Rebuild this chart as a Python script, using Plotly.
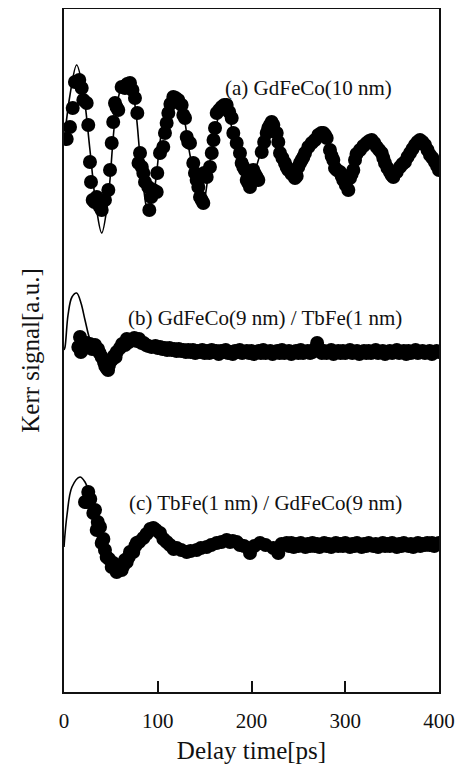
import plotly.graph_objects as go

# ---------------- data (delay time in ps, Kerr signal in a.u. incl. vertical offsets) ----------------
# (a) GdFeCo(10 nm) measured points
a_t = [2.9, 6.4, 9.3, 11.7, 16.3, 18.9, 20.6, 24.2, 25.9, 27.7, 30.6, 34.9, 38.4, 40.2, 43.7, 47.3,
       49.1, 50.9, 54.4, 57.9, 61.5, 65.1, 70.4, 75.7, 78.2, 79.5, 81.1, 84.6, 86.4, 89.9, 91.0, 95.3,
       98.9, 99.5, 102.4, 105.9, 107.7, 109.5, 111.3, 116.6, 121.9, 125.5, 127.3, 129.1, 130.9, 134.4,
       137.9, 139.7, 141.5, 143.3, 145.1, 148.6, 149.5, 152.2, 155.7, 157.6, 161.1, 162.9, 168.2, 173.5,
       178.9, 180.6, 184.2, 187.7, 189.5, 193.1, 194.9, 198.4, 201.9, 205.5, 207.3, 210.9, 216.2, 219.7,
       223.3, 226.9, 228.6, 230.4, 235.7, 239.3, 246.4, 249.9, 253.5, 257.1, 260.6, 267.7, 271.3, 276.6,
       280.2, 283.7, 287.3, 289.1, 294.4, 297.9, 303.3, 305.1, 308.6, 310.4, 315.7, 322.9, 328.2, 333.6,
       338.9, 342.4, 347.7, 351.3, 358.4, 363.7, 369.1, 374.4, 379.7, 385.1, 390.4, 395.7, 400.0,
       28.8, 32.5, 36.5, 52.5, 56.0, 67.5, 73.0, 83.0, 93.0, 113.5, 119.0, 132.5, 146.9, 159.5, 165.5,
       170.9, 176.2, 191.3, 196.6, 200.2, 203.7, 213.5, 217.9, 221.5, 233.0, 237.5, 242.8, 248.2, 251.7,
       255.3, 264.2, 274.5, 278.4, 285.5, 291.0, 296.2, 300.6, 306.8, 312.0, 319.3, 325.6, 331.0, 336.2,
       340.6, 345.0, 349.5, 354.9, 361.0, 366.4, 371.7, 377.0, 382.4, 387.8, 393.0, 398.0]
a_v = [55.3, 56.5, 58.4, 61.0, 61.2, 60.4, 59.2, 58.9, 56.7, 53.0, 49.2, 49.5, 48.5, 48.2, 49.2, 50.2,
       52.2, 54.9, 58.9, 58.2, 60.5, 60.4, 60.9, 59.4, 57.9, 52.9, 53.9, 51.9, 51.0, 50.5, 48.2, 50.2,
       50.0, 51.9, 53.9, 54.5, 55.9, 56.9, 57.9, 59.5, 59.2, 58.7, 57.7, 57.4, 55.5, 54.9,
       52.9, 51.9, 51.2, 50.5, 49.5, 48.9, 51.9, 51.5, 52.5, 53.9, 56.4, 57.9, 58.5, 58.7,
       57.4, 55.9, 54.9, 53.9, 52.9, 52.2, 51.2, 50.5, 52.2, 51.5, 51.2, 54.0, 55.9, 56.7,
       56.7, 55.9, 55.0, 53.9, 52.9, 52.2, 51.4, 52.5, 53.2, 53.9, 54.5, 55.2, 55.7, 55.9,
       55.4, 54.2, 53.2, 52.4, 52.0, 51.2, 50.2, 51.4, 52.2, 53.2, 54.2, 54.9, 55.2, 54.5,
       53.9, 52.9, 52.0, 51.5, 52.5, 53.0, 53.9, 54.7, 55.2, 54.7, 53.7, 53.0, 52.2,
       51.0, 49.0, 48.8, 57.0, 58.5, 60.8, 60.2, 52.5, 49.5, 58.8, 59.4, 55.0, 49.2, 55.2, 58.2,
       58.7, 58.0, 52.5, 50.9, 51.4, 51.8, 55.0, 56.4, 57.0, 53.4, 52.5, 51.8, 51.6, 52.9,
       53.5, 54.9, 55.9, 55.7, 53.6, 52.2, 51.6, 50.7, 51.8, 53.8, 54.6, 55.1, 54.9, 54.2,
       53.4, 52.4, 51.7, 52.0, 52.8, 53.5, 54.3, 55.0, 55.0, 54.2, 53.4, 52.6]
# (a) fitted curve
a_fit_t = [0.0, 1.1, 6.4, 13.5, 20.3, 27.7, 34.1, 40.2, 46.9, 54.4, 60.8, 67.2, 74.7, 82.1, 89.9, 97.1,
           104.5, 116.6, 125.9, 134.4, 146.9, 157.9, 169.9, 182.4, 196.3, 209.1, 222.9, 235.7, 248.5,
           262.4, 276.3, 289.1, 301.9, 315.7, 328.5, 340.3, 353.1, 366.9, 379.7, 390.4, 400.0]
a_fit_v = [54.8, 55.9, 59.7, 62.7, 60.2, 54.2, 48.7, 45.9, 49.2, 57.2, 60.4, 61.2, 59.2, 52.7, 48.0, 50.7,
           56.2, 59.7, 58.2, 53.7, 48.5, 54.2, 58.9, 55.2, 50.4, 53.7, 57.0, 53.7, 51.4,
           54.0, 56.1, 53.2, 50.4, 53.7, 55.4, 53.4, 51.7, 53.7, 55.2, 54.0, 52.4]

# (b) GdFeCo(9 nm) / TbFe(1 nm) measured points
b_t_early = [15.3, 17.1, 20.3, 24.2, 27.7, 33.1, 36.3, 40.2, 42.7, 45.5, 48.0, 50.9, 53.3, 56.2, 59.7,
             65.1, 69.3, 73.9, 77.9, 82.9, 87.5, 93.5,
             18.0, 22.0, 30.0, 38.0, 44.0, 47.0, 55.0, 62.0, 67.0, 75.0, 80.0, 85.0, 90.0]
b_v_early = [34.5, 35.5, 35.0, 34.9, 34.8, 34.7, 34.3, 33.5, 33.0, 32.4, 32.7, 33.2, 33.6, 34.0, 34.4,
             34.7, 35.0, 35.2, 35.1, 34.9, 34.7, 34.5,
             34.0, 34.4, 34.3, 33.9, 32.6, 32.2, 33.5, 34.8, 35.3, 35.4, 35.3, 34.9, 34.6]
b_t_late = [97.5 + 2.5 * i for i in range(122)]
b_v_late = [34.6, 34.4, 34.5, 34.3, 34.4, 34.2, 34.4, 34.2, 34.3, 34.1,
            34.3, 34.1, 34.2, 34.0, 34.2, 34.0, 34.2, 33.9, 34.1, 34.0,
            34.2, 33.9, 34.1, 33.9, 34.2, 34.0, 34.1, 33.8, 34.1, 34.0,
            34.2, 33.9, 34.0, 33.8, 34.1, 34.0, 34.2, 33.9, 34.0, 34.1,
            33.9, 34.1, 33.8, 34.0, 34.1, 33.9, 34.2, 33.9, 34.0, 34.1,
            33.8, 34.0, 34.1, 33.9, 34.2, 33.9, 34.0, 34.1, 33.8, 34.0,
            34.1, 33.9, 34.2, 33.9, 34.0, 34.1, 33.9, 34.0, 34.3, 34.9,
            34.2, 33.9, 34.1, 33.9, 34.0, 34.2, 33.8, 34.0, 34.1, 33.9,
            34.1, 33.9, 34.0, 34.2, 33.9, 34.0, 34.1, 33.8, 34.0, 34.1,
            33.9, 34.1, 33.9, 34.0, 34.2, 33.9, 34.0, 34.1, 33.8, 34.0,
            34.1, 33.9, 34.0, 34.2, 33.9, 34.0, 34.1, 33.8, 34.1, 33.9,
            34.0, 34.2, 33.9, 34.0, 34.1, 33.9, 34.0, 34.1, 33.8, 34.0,
            34.1, 34.0]
b_t = b_t_early + b_t_late
b_v = b_v_early + b_v_late
# (b) fitted curve
b_fit_t = [0.0, 1.1, 4.3, 8.5, 13.5, 18.1, 22.4, 27.7, 33.1, 40.2, 45.5, 52.3, 61.9, 73.6, 86.4, 102.4,
           145.0, 251.7, 400.0]
b_fit_v = [34.2, 34.5, 37.7, 39.5, 39.9, 38.9, 37.2, 35.2, 34.0, 33.2, 32.6, 33.2, 34.4, 35.1, 34.7, 34.3,
           34.1, 34.0, 34.0]

# (c) TbFe(1 nm) / GdFeCo(9 nm) measured points
c_t_early = [22.4, 24.2, 25.9, 31.3, 33.1, 34.9, 38.4, 40.2, 43.7, 45.5, 50.9, 52.6, 56.2, 59.7, 61.5,
             65.1, 66.9, 70.4, 73.9, 77.5, 84.6, 95.3, 102.4, 109.5, 120.2, 130.9, 141.5, 152.2, 162.9,
             173.5, 177.1, 184.2, 187.7, 198.4, 209.1, 223.3, 228.6, 237.5,
             28.0, 36.0, 42.0, 48.0, 55.0, 63.0, 69.0, 76.0, 80.0, 88.0, 92.0, 98.0, 106.0, 113.0, 117.0,
             125.0, 135.0, 146.0, 157.0, 168.0, 180.0, 192.0, 203.0, 215.0, 232.0]
c_v_early = [19.0, 19.0, 20.0, 17.9, 18.2, 16.2, 16.5, 14.9, 14.2, 13.5, 12.5, 12.9, 12.0, 12.5, 12.2,
             13.2, 13.0, 14.0, 14.0, 14.9, 15.4, 16.4, 15.9, 15.0, 14.4, 14.0, 14.2, 14.5, 14.9,
             15.2, 15.0, 15.0, 14.7, 13.9, 14.9, 14.4, 13.9, 14.9,
             19.3, 17.0, 15.3, 13.3, 12.7, 12.6, 13.5, 14.6, 15.0, 15.8, 16.3, 16.2, 15.3, 14.7, 14.3,
             14.2, 14.1, 14.4, 14.7, 15.0, 15.1, 14.6, 14.6, 14.7, 14.8]
c_t_late = [240 + 2.5 * i for i in range(65)]
c_v_late = [14.6, 14.9, 14.5, 14.8, 14.6, 14.9, 14.7, 14.5, 14.8, 14.6,
            14.9, 14.6, 14.8, 14.5, 14.7, 14.9, 14.6, 14.8, 14.5, 14.7,
            14.9, 14.6, 14.8, 14.6, 14.9, 14.7, 14.5, 14.8, 14.6, 14.9,
            14.7, 14.5, 14.8, 14.6, 14.9, 14.7, 14.6, 14.8, 14.5, 14.7,
            14.9, 14.6, 14.8, 14.6, 14.9, 14.7, 14.5, 14.8, 14.6, 14.9,
            14.7, 14.6, 14.8, 14.5, 14.7, 14.9, 14.6, 14.8, 14.7, 14.9,
            14.7, 14.9, 14.6, 14.8, 14.9]
c_t = c_t_early + c_t_late
c_v = c_v_early + c_v_late
# (c) fitted curve
c_fit_t = [0.0, 3.2, 8.5, 17.1, 22.4, 25.9, 30.9, 38.4, 46.9, 57.6, 68.3, 81.1, 94.9, 107.7, 123.7, 145.0,
           177.0, 251.7, 400.0]
c_fit_v = [14.5, 17.7, 20.5, 21.5, 21.0, 20.2, 18.2, 15.7, 13.4, 12.5, 13.2, 14.9, 16.2, 15.4, 14.4, 14.3,
           14.9, 14.7, 14.7]

labels = ["(a) GdFeCo(10 nm)", "(b) GdFeCo(9 nm) / TbFe(1 nm)", "(c) TbFe(1 nm) / GdFeCo(9 nm)"]
label_t = [260.3, 214.4, 214.9]
label_v = [60.4, 37.4, 18.9]

x_ticks = [0, 100, 200, 300, 400]

# ---------------- figure ----------------
FONT = "Liberation Serif, Times New Roman, serif"
INK = "#111"
fig = go.Figure()

for ft, fv in [(a_fit_t, a_fit_v), (b_fit_t, b_fit_v), (c_fit_t, c_fit_v)]:
    fig.add_trace(go.Scatter(x=ft, y=fv, mode="lines",
                             line=dict(color="black", width=1.6, shape="spline", smoothing=1.0),
                             showlegend=False, hoverinfo="skip"))

for mt, mv in [(a_t, a_v), (b_t, b_v), (c_t, c_v)]:
    fig.add_trace(go.Scatter(x=mt, y=mv, mode="markers",
                             marker=dict(color="black", size=14, line=dict(width=0)),
                             showlegend=False))

for txt, lt, lv in zip(labels, label_t, label_v):
    fig.add_annotation(x=lt, y=lv, text=txt, showarrow=False,
                       font=dict(family=FONT, size=21, color=INK),
                       xanchor="center", yanchor="middle")

# the page adds an 8 px body margin, so the figure is sized to fit the 470x767 window
fig.update_layout(
    width=462, height=759,
    margin=dict(l=56, r=31, t=1, b=75, autoexpand=False),
    paper_bgcolor="white", plot_bgcolor="white",
    font=dict(family=FONT, color=INK),
    showlegend=False,
)
fig.update_xaxes(
    range=[0, 400], tickvals=x_ticks, ticktext=[str(v) for v in x_ticks],
    ticks="inside", ticklen=11, tickwidth=1.5, tickcolor=INK,
    showline=True, linecolor=INK, linewidth=1.8, mirror=True,
    showgrid=False, zeroline=False, automargin=False,
    tickfont=dict(family=FONT, size=21, color=INK),
    ticklabelstandoff=9,
    title=dict(text="Delay time[ps]", font=dict(family=FONT, size=25, color=INK), standoff=9),
)
fig.update_yaxes(
    range=[0, 68.3], showticklabels=False, ticks="",
    showline=True, linecolor=INK, linewidth=1.8, mirror=True,
    showgrid=False, zeroline=False, automargin=False,
    title=dict(text="Kerr signal[a.u.]", font=dict(family=FONT, size=25, color=INK), standoff=15),
)

fig.write_html("out.html")
